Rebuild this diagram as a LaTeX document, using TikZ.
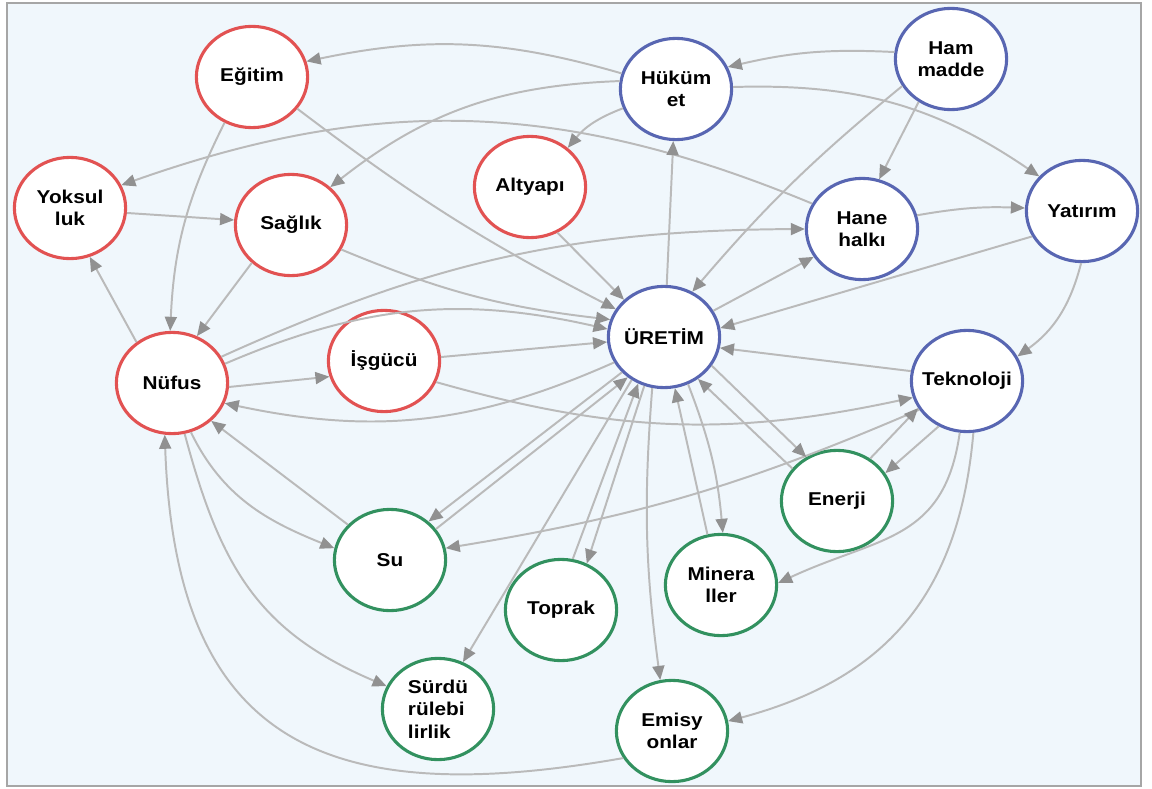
\documentclass[tikz,border=0pt]{standalone}
\usepackage{fontspec}
\usepackage{tikz}
\usepackage{xcolor}
\usetikzlibrary{shapes.geometric,arrows.meta}

\newfontfamily\nodefont{Liberation Sans}[FakeStretch=1.12]

\definecolor{socred}{RGB}{226,82,82}
\definecolor{ecoblue}{RGB}{88,102,178}
\definecolor{resgreen}{RGB}{50,145,95}
\definecolor{bgblue}{RGB}{240,247,252}
\definecolor{edgegray}{RGB}{186,186,186}
\definecolor{tipgray}{RGB}{145,145,145}

\begin{document}
\begin{tikzpicture}[
    x=0.025cm, y=0.025cm,
    factor/.style={ellipse, draw, fill=white, line width=2.2pt, minimum width=2.78cm, minimum height=2.53cm, inner xsep=-6pt, inner ysep=0pt, align=center, font=\nodefont\bfseries\fontsize{13.2}{16}\selectfont},
    social/.style={factor, draw=socred},
    economic/.style={factor, draw=ecoblue},
    resource/.style={factor, draw=resgreen},
    arrow/.style={-{Triangle[length=10pt, width=8.5pt, color=tipgray]}, draw=edgegray, line width=1.4pt}
]

% Frame
\useasboundingbox (0,0) rectangle (1152,-789);
\draw[gray!70, line width=1.5pt, fill=bgblue] (7,-3) rectangle (1141,-786);

% Social factors
\node[social] (egitim) at (252,-77) {Eğitim};
\node[social] (yoksulluk) at (70,-208) {Yoksul\\luk};
\node[social] (saglik) at (291,-225) {Sağlık};
\node[social] (altyapi) at (530,-187) {Altyapı};
\node[social] (isgucu) at (384,-361) {İşgücü};
\node[social] (nufus) at (172,-383) {Nüfus};

% Economic factors
\node[economic] (hukumet) at (676,-89) {Hüküm\\et};
\node[economic] (hammadde) at (951,-59) {Ham\\madde};
\node[economic] (hane) at (862,-229) {Hane\\halkı};
\node[economic] (yatirim) at (1082,-211) {Yatırım};
\node[economic] (uretim) at (664,-337) {ÜRETİM};
\node[economic] (teknoloji) at (967,-381) {Teknoloji};

% Resources
\node[resource] (enerji) at (837,-501) {Enerji};
\node[resource] (su) at (390,-560) {Su};
\node[resource] (toprak) at (561,-610) {Toprak};
\node[resource] (mineral) at (721,-585) {Minera\\ller};
\node[resource, align=left] (surdur) at (438,-709) {Sürdü\\rülebi\\lirlik};
\node[resource] (emisyon) at (672,-731) {Emisy\\onlar};

% Arrows: government and investment
\draw[arrow] (hukumet.164) to[bend right=14] (egitim.16);
\draw[arrow] (hammadde.173) to[bend right=8] (hukumet.23);
\draw[arrow] (hukumet.200) to[bend right=15] (altyapi.46);
\draw[arrow] (hukumet.172) to[bend right=18] (saglik.44);
\draw[arrow] (hane.153) to[bend right=21] (yoksulluk.24);
\draw[arrow] (hukumet.2) to[bend left=18] (yatirim.141);
\draw[arrow] (hammadde.233) -- (hane.71);
\draw[arrow] (hammadde.209) to[bend right=5] (uretim.58);
\draw[arrow] (hane.14) to[bend left=6] (yatirim.177);
\draw[arrow] (yatirim.207) -- (uretim.9);
\draw[arrow] (yatirim.269) to[bend left=20] (teknoloji.26);

% Arrows: population
\draw[arrow] (egitim.239) to[bend right=12] (nufus.92);
\draw[arrow] (egitim.-35) to[bend right=5] (uretim.150);
\draw[arrow] (yoksulluk.-5) -- (saglik.175);
\draw[arrow] (nufus.131) -- (yoksulluk.-68);
\draw[arrow] (saglik.224) -- (nufus.62);
\draw[arrow] (saglik.-26) to[bend right=8] (uretim.162);
\draw[arrow] (altyapi.-59) -- (uretim.137);
\draw[arrow] (nufus.28) to[bend left=12] (hane.180);
\draw[arrow] (nufus.20) to[bend left=18] (uretim.172);
\draw[arrow] (nufus.-4) -- (isgucu.196);
\draw[arrow] (isgucu.4) -- (uretim.185);
\draw[arrow] (uretim.207) to[bend left=18] (nufus.-21);
\draw[arrow] (isgucu.-22) to[bend right=14] (teknoloji.197);

% Arrows: production
\draw[arrow] (uretim.87) -- (hukumet.267);
\draw[arrow] (uretim.28) -- (hane.210);
\draw[arrow] (teknoloji.170) -- (uretim.-11);
\draw[arrow] (teknoloji.211) to[bend left=7] (su.12);
\draw[arrow] (uretim.-31) -- (enerji.125);
\draw[arrow] (enerji.144) -- (uretim.-51);
\draw[arrow] (teknoloji.238) -- (enerji.30);
\draw[arrow] (enerji.52) -- (teknoloji.209);
\draw[arrow] (teknoloji.262) to[out=262, in=25, looseness=1.2] (mineral.2);
\draw[arrow] (teknoloji.277) to[out=265, in=15, looseness=1.1] (emisyon.10);
\draw[arrow] (uretim.-63) to[bend left=8] (mineral.88);
\draw[arrow] (mineral.105) -- (uretim.-78);
\draw[arrow] (uretim.257) to[bend right=6] (emisyon.103);
\draw[arrow] (uretim.248) -- (toprak.61);
\draw[arrow] (toprak.77) -- (uretim.241);
\draw[arrow] (uretim.233) -- (surdur.62);
\draw[arrow] (uretim.220) -- (su.45);
\draw[arrow] (su.34) -- (uretim.228);
\draw[arrow] (nufus.-69) to[out=-64, in=158] (su.168);
\draw[arrow] (su.140) -- (nufus.-44);
\draw[arrow] (nufus.-76) to[out=-75, in=157, looseness=1.1] (surdur.156);
\draw[arrow] (emisyon.209) to[out=190, in=-88, looseness=1.4] (nufus.262);

\end{tikzpicture}
\end{document}
